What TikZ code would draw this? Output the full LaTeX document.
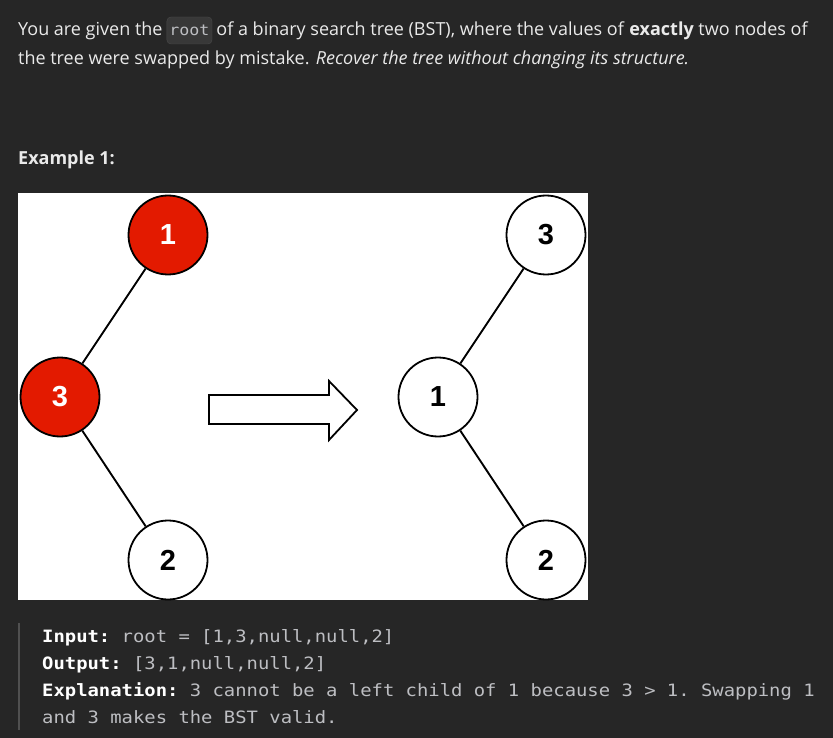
\documentclass[tikz,border=0pt]{standalone}
\usepackage{fontspec}
\setmainfont{Open Sans}
\newfontfamily\codefont[FakeStretch=1.11]{DejaVu Sans Mono}
\newfontfamily\digitfont{Liberation Sans}
\usetikzlibrary{positioning}

\definecolor{pagebg}{HTML}{262626}
\definecolor{bodytext}{HTML}{EAEAEA}
\definecolor{codegrey}{HTML}{BDBEC2}
\definecolor{codeboxfill}{HTML}{383838}
\definecolor{codeboxline}{HTML}{4A4A4A}
\definecolor{barline}{HTML}{505050}
\definecolor{swapred}{HTML}{E31A00}

\begin{document}
\begin{tikzpicture}[x=1pt, y=-1pt,
    treenode/.style={draw=black, circle, line width=1.8pt, minimum size=79pt, inner sep=0pt,
      font=\digitfont\bfseries\fontsize{29}{29}\selectfont},
    swapped/.style={treenode, fill=swapred, text=white},
    fixed/.style={treenode, fill=white, text=black},
    edge/.style={line width=1.9pt},
    bodyline/.style={anchor=base west, inner sep=0pt, text=bodytext, font=\fontsize{18}{21}\selectfont},
    codebox/.style={anchor=base west, inner xsep=2.5pt, inner ysep=0pt, text height=19pt, text depth=8pt,
      rounded corners=4pt, fill=codeboxfill, draw=codeboxline, text=codegrey, font=\codefont\fontsize{15}{15}\selectfont},
    monoline/.style={anchor=base west, inner sep=0pt, text=codegrey, font=\codefont\fontsize{17}{20}\selectfont\frenchspacing}]

    \fill[pagebg] (0,0) rectangle (833,738);
    \useasboundingbox (0,0) rectangle (833,738);

    % problem statement
    \node[bodyline] (introA) at (18,36) {You are given the};
    \node[codebox, right=4pt of introA.base east, anchor=base west] (rootcode) {root};
    \node[bodyline, right=4pt of rootcode.base east, anchor=base west] (introB)
        {of a binary search tree (BST), where the values of \textbf{exactly} two nodes of};
    \node[bodyline] (introC) at (18,65)
        {the tree were swapped by mistake. \textit{Recover the tree without changing its structure.}};
    \node[bodyline] (example) at (18,165) {\textbf{Example 1:}};

    % picture panel
    \fill[white] (18,193) rectangle (588,600);

    \node[swapped] (bad1) at (168,235) {1};
    \node[swapped] (bad3) at (60,397) {3};
    \node[fixed] (bad2) at (168,560) {2};

    \node[fixed] (good3) at (546,235) {3};
    \node[fixed] (good1) at (438,397) {1};
    \node[fixed] (good2) at (546,560) {2};

    \draw[edge] (bad1) -- (bad3);
    \draw[edge] (bad3) -- (bad2);
    \draw[edge] (good3) -- (good1);
    \draw[edge] (good1) -- (good2);

    % hollow arrow
    \draw[line width=1.8pt, fill=white] (209,395) -- (329,395) -- (329,381) -- (357,410)
        -- (329,440) -- (329,424) -- (209,424) -- cycle;

    % example block
    \draw[barline, line width=2pt] (19,623) -- (19,730);
    \node[monoline] (inputline) at (42,642) {{\bfseries\color{white}Input:} root = [1,3,null,null,2]};
    \node[monoline] (outputline) at (42,669) {{\bfseries\color{white}Output:} [3,1,null,null,2]};
    \node[monoline] (explainA) at (42,696)
        {{\bfseries\color{white}Explanation:} 3 cannot be a left child of 1 because 3 > 1. Swapping 1};
    \node[monoline] (explainB) at (42,723) {and 3 makes the BST valid.};
\end{tikzpicture}
\end{document}
